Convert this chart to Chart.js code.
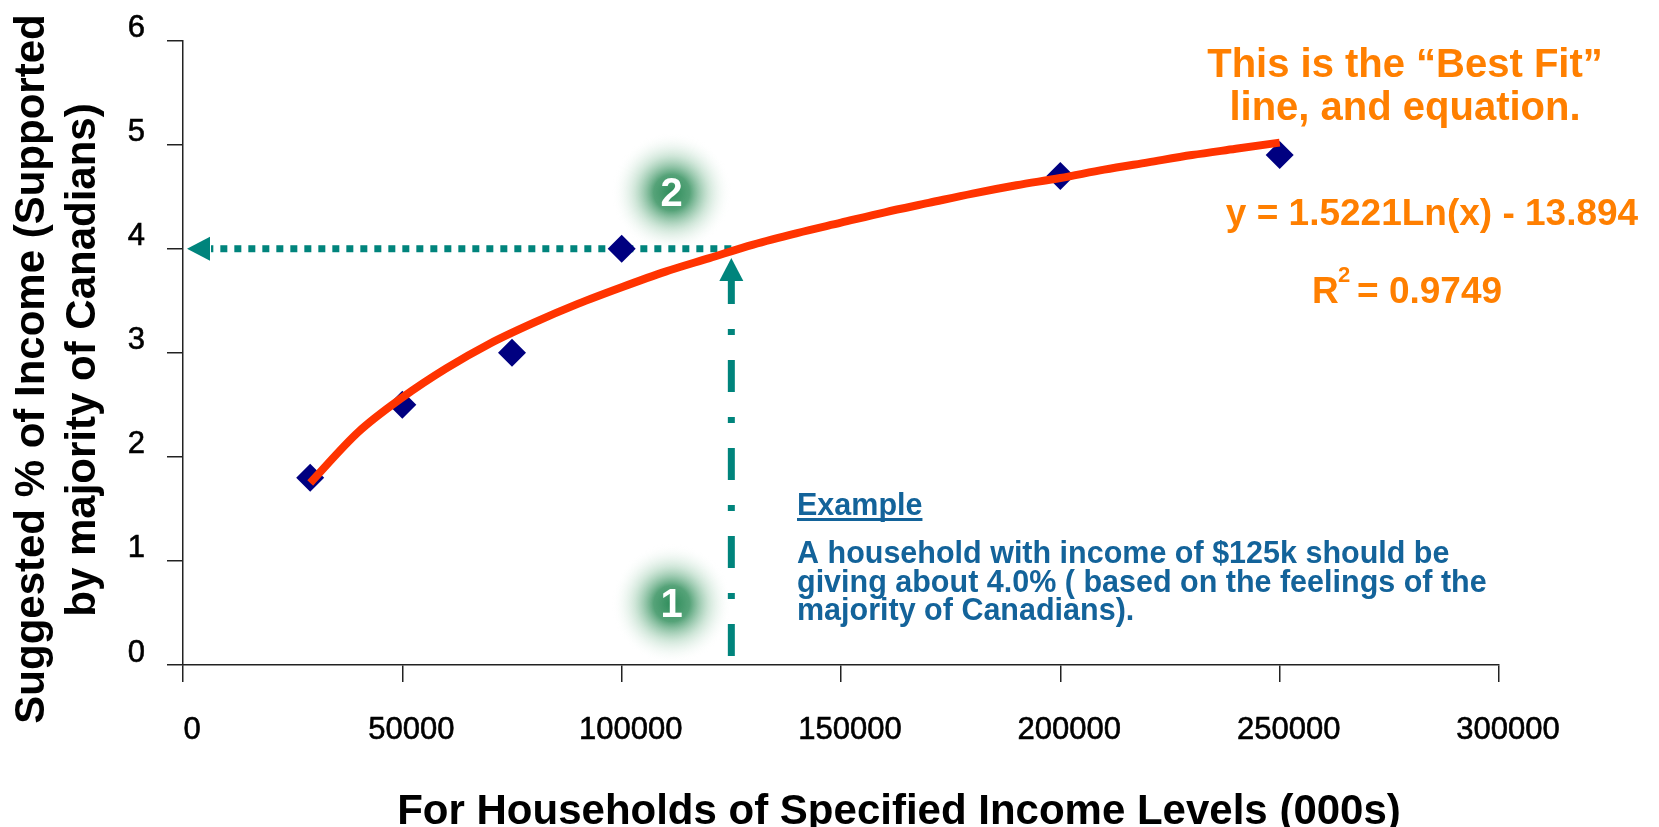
<!DOCTYPE html>
<html>
<head>
<meta charset="utf-8">
<script src="https://cdn.jsdelivr.net/npm/chart.js@4.4.0/dist/chart.umd.min.js"></script>
<style>
  html, body { margin: 0; padding: 0; background: #fff; }
  #wrap { width: 1659px; height: 827px; }
</style>
</head>
<body>
<div id="wrap"><canvas id="chart" width="1659" height="827"></canvas></div>
<script>
// survey points (income, suggested % of income)
const incomes = [29000, 50000, 75000, 100000, 200000, 250000];
const pctGiving = [1.8, 2.5, 3.0, 4.0, 4.7, 4.9];

// best fit line, every 10k
const fitIncomes = [29000, 40000, 50000, 60000, 70000, 80000, 90000, 100000, 110000, 120000,
  130000, 140000, 150000, 160000, 170000, 180000, 190000, 200000, 210000, 220000, 230000, 240000, 250000];
const fitPct = [1.75, 2.24, 2.57, 2.85, 3.09, 3.29, 3.47, 3.63, 3.78, 3.91,
  4.04, 4.15, 4.25, 4.35, 4.44, 4.53, 4.61, 4.68, 4.76, 4.83, 4.90, 4.96, 5.02];

const xTicks = [0, 50000, 100000, 150000, 200000, 250000, 300000];
const yTicks = [0, 1, 2, 3, 4, 5, 6];

// the worked example
const exampleIncome = 125000;
const examplePct = 4.0;
const arrowTipPct = 3.91;
const badges = [
  { label: '1', x: 111400, y: 0.59 },
  { label: '2', x: 111400, y: 4.54 }
];

const SANS = "'Liberation Sans', Arial, Helvetica, sans-serif";
const TEAL = '#00847c';
const ORANGE = '#ff7f00';
const BLUE = '#13639a';

const extras = {
  id: 'extras',
  beforeDatasetsDraw(chart) {
    const { ctx, scales: { x, y } } = chart;
    ctx.save();

    // glowing number badges
    badges.forEach(b => {
      const cx = x.getPixelForValue(b.x);
      const cy = y.getPixelForValue(b.y);
      const g = ctx.createRadialGradient(cx, cy, 0, cx, cy, 60);
      g.addColorStop(0, 'rgba(45,140,90,1)');
      g.addColorStop(0.3, 'rgba(62,150,102,0.88)');
      g.addColorStop(0.62, 'rgba(140,195,162,0.4)');
      g.addColorStop(1, 'rgba(255,255,255,0)');
      ctx.fillStyle = g;
      ctx.beginPath();
      ctx.arc(cx, cy, 60, 0, Math.PI * 2);
      ctx.fill();
      ctx.fillStyle = '#fff';
      ctx.font = 'bold 40px ' + SANS;
      ctx.textAlign = 'center';
      ctx.textBaseline = 'middle';
      ctx.fillText(b.label, cx, cy + 2);
    });

    // arrows for the example
    const ax = x.getPixelForValue(exampleIncome);
    const ay = y.getPixelForValue(examplePct);
    const x0 = x.getPixelForValue(0);
    const y0 = y.getPixelForValue(0);
    const tipY = y.getPixelForValue(arrowTipPct);
    ctx.strokeStyle = TEAL;
    ctx.fillStyle = TEAL;
    ctx.lineWidth = 7;
    ctx.lineCap = 'butt';

    ctx.setLineDash([7, 7]);
    ctx.beginPath();
    ctx.moveTo(ax, ay);
    ctx.lineTo(x0 + 28, ay);
    ctx.stroke();
    ctx.setLineDash([]);
    ctx.beginPath();
    ctx.moveTo(x0 + 4, ay);
    ctx.lineTo(x0 + 27, ay - 12);
    ctx.lineTo(x0 + 27, ay + 12);
    ctx.closePath();
    ctx.fill();

    ctx.setLineDash([32, 25, 6, 25]);
    ctx.beginPath();
    ctx.moveTo(ax, y0 - 9);
    ctx.lineTo(ax, tipY + 22);
    ctx.stroke();
    ctx.setLineDash([]);
    ctx.beginPath();
    ctx.moveTo(ax, tipY);
    ctx.lineTo(ax - 12, tipY + 23);
    ctx.lineTo(ax + 12, tipY + 23);
    ctx.closePath();
    ctx.fill();

    ctx.restore();
  },
  afterDraw(chart) {
    const { ctx } = chart;
    ctx.save();
    ctx.fillStyle = '#000';

    // axis titles
    ctx.font = 'bold 42px ' + SANS;
    ctx.textAlign = 'center';
    ctx.textBaseline = 'middle';
    ctx.fillText('For Households of Specified Income Levels (000s)', 899, 812);
    ctx.save();
    ctx.translate(32, 369);
    ctx.rotate(-Math.PI / 2);
    ctx.fillText('Suggested % of Income (Supported', 0, 0);
    ctx.restore();
    ctx.save();
    ctx.translate(83, 360);
    ctx.rotate(-Math.PI / 2);
    ctx.fillText('by majority of Canadians)', 0, 0);
    ctx.restore();

    // best fit notes
    ctx.fillStyle = ORANGE;
    ctx.textBaseline = 'alphabetic';
    ctx.font = 'bold 40px ' + SANS;
    ctx.fillText('This is the \u201cBest Fit\u201d', 1405, 77);
    ctx.fillText('line, and equation.', 1405, 120);
    ctx.font = 'bold 37px ' + SANS;
    ctx.fillText('y = 1.5221Ln(x) - 13.894', 1432, 225);
    ctx.textAlign = 'left';
    ctx.fillText('R', 1312, 303);
    ctx.fillText('= 0.9749', 1357, 303);
    ctx.font = 'bold 22px ' + SANS;
    ctx.fillText('2', 1338, 282);

    // example text
    ctx.fillStyle = BLUE;
    ctx.strokeStyle = BLUE;
    ctx.font = 'bold 30.5px ' + SANS;
    ctx.fillText('Example', 797, 515);
    const w = ctx.measureText('Example').width;
    ctx.lineWidth = 3;
    ctx.beginPath();
    ctx.moveTo(797, 519.5);
    ctx.lineTo(797 + w, 519.5);
    ctx.stroke();
    ctx.fillText('A household with income of $125k should be', 797, 563);
    ctx.fillText('giving about 4.0% ( based on the feelings of the', 797, 592);
    ctx.fillText('majority of Canadians).', 797, 620);

    ctx.restore();
  }
};

const ctx = document.getElementById('chart').getContext('2d');
new Chart(ctx, {
  type: 'scatter',
  data: {
    datasets: [
      {
        label: 'Best fit',
        data: fitIncomes.map((v, i) => ({ x: v, y: fitPct[i] })),
        showLine: true,
        borderColor: '#ff3300',
        borderWidth: 8,
        borderJoinStyle: 'round',
        pointRadius: 0,
        cubicInterpolationMode: 'monotone'
      },
      {
        label: 'Survey',
        data: incomes.map((v, i) => ({ x: v, y: pctGiving[i] })),
        showLine: false,
        pointStyle: 'rectRot',
        pointRadius: 14,
        pointBackgroundColor: '#000080',
        pointBorderWidth: 0
      }
    ]
  },
  options: {
    responsive: false,
    animation: false,
    devicePixelRatio: 1,
    layout: { padding: { top: 37, right: 160, left: 0, bottom: 0 } },
    plugins: { legend: { display: false }, tooltip: { enabled: false } },
    scales: {
      x: {
        type: 'linear',
        min: 0,
        max: 300000,
        afterBuildTicks: s => { s.ticks = xTicks.map(v => ({ value: v })); },
        afterFit: s => { s.height = 162; },
        ticks: {
          callback: v => String(v),
          font: { family: SANS, size: 31 },
          color: '#000',
          textStrokeColor: '#000',
          textStrokeWidth: 0.6,
          padding: 30,
          labelOffset: 9,
          maxRotation: 0,
          autoSkip: false
        },
        grid: { drawOnChartArea: false, drawTicks: true, tickLength: 17, color: '#222', lineWidth: 1.5 },
        border: { display: true, color: '#222', width: 1.5 }
      },
      y: {
        type: 'linear',
        min: 0,
        max: 6,
        afterBuildTicks: s => { s.ticks = yTicks.map(v => ({ value: v })); },
        afterFit: s => { s.width = 183; },
        ticks: {
          font: { family: SANS, size: 31 },
          color: '#000',
          textStrokeColor: '#000',
          textStrokeWidth: 0.6,
          padding: 22,
          labelOffset: -12
        },
        grid: { drawOnChartArea: false, drawTicks: true, tickLength: 16, color: '#222', lineWidth: 1.5 },
        border: { display: true, color: '#222', width: 1.5 }
      }
    }
  },
  plugins: [extras]
});
</script>
</body>
</html>
